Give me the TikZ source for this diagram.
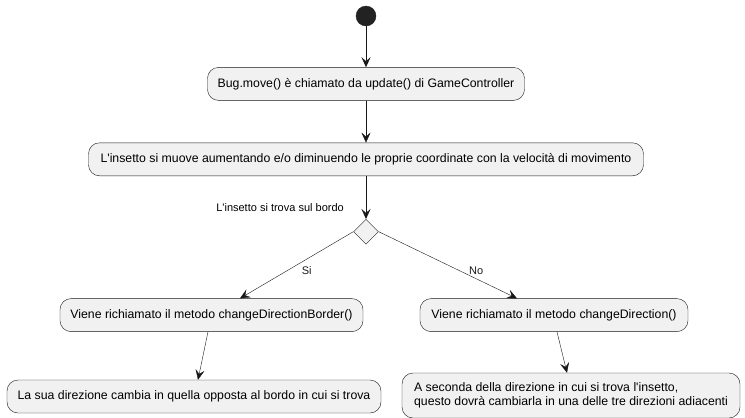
\documentclass[tikz,border=0pt]{standalone}
\usepackage{fontspec}
\setmainfont{Liberation Sans}
\usetikzlibrary{positioning,shapes.geometric,arrows.meta}
\definecolor{actfill}{HTML}{F1F1F1}
\definecolor{actline}{HTML}{181818}
\definecolor{startfill}{HTML}{222222}

\begin{document}
\begin{tikzpicture}[
				x=1pt, y=1pt,
				font=\fontsize{12.3}{14.5}\selectfont,
				action/.style={rectangle, rounded corners=11pt, draw=actline, fill=actfill, minimum height=33pt, inner xsep=9pt},
				start/.style={circle, draw=startfill, fill=startfill, minimum size=20pt, inner sep=0pt},
				choice/.style={diamond, draw=actline, fill=actfill, minimum size=25pt, inner sep=0pt},
				lbl/.style={rectangle, inner sep=1pt, font=\fontsize{11}{13}\selectfont}
			]
			\useasboundingbox (0,0) rectangle (745,-418);
			\node[start] (start) at (366,-16) {};
			\node[action, minimum width=317pt] (move) [below=41pt of start] {Bug.move() è chiamato da update() di GameController};
			\node[action, minimum width=555pt] (coords) [below=42pt of move] {L\textquotesingle insetto si muove aumentando e/o diminuendo le proprie coordinate con la velocità di movimento};
			\node[choice] (border) [below=43pt of coords] {};
			\node[lbl, anchor=south east] (bordertext) at ([xshift=-21pt, yshift=6pt]border.north) {L\textquotesingle insetto si trova sul bordo};
			\node[action, minimum width=303pt] (changeborder) [below=54pt of border, xshift=-154.5pt] {Viene richiamato il metodo changeDirectionBorder()};
			\node[action, minimum width=268pt] (change) [below=54pt of border, xshift=188pt] {Viene richiamato il metodo changeDirection()};
			\node[action, minimum width=374pt] (opposite) [below=48pt of changeborder, xshift=-17.5pt] {La sua direzione cambia in quella opposta al bordo in cui si trova};
			\node[action, minimum width=338pt, minimum height=45pt, align=left] (adjacent) [below=41pt of change, xshift=17pt] {A seconda della direzione in cui si trova l\textquotesingle insetto,\\questo dovrà cambiarla in una delle tre direzioni adiacenti};
			\begin{scope}[actline, -{Stealth[length=10pt, width=9pt, inset=4pt]}]
			\draw (start) -- (move);
			\draw (move) -- (coords);
			\draw (coords) -- (border);
			\draw (border.west) -- node[lbl, pos=0.58, anchor=west, xshift=13pt] (si) {Si} ([xshift=28.5pt]changeborder.north);
			\draw (border.east) -- node[lbl, pos=0.58, anchor=west, xshift=9pt] (no) {No} ([xshift=-37pt]change.north);
			\draw ([xshift=-3.5pt]changeborder.south) -- ([xshift=4pt]opposite.north);
			\draw ([xshift=3pt]change.south) -- ([xshift=-4pt]adjacent.north);
			\end{scope}
			\end{tikzpicture}
\end{document}
